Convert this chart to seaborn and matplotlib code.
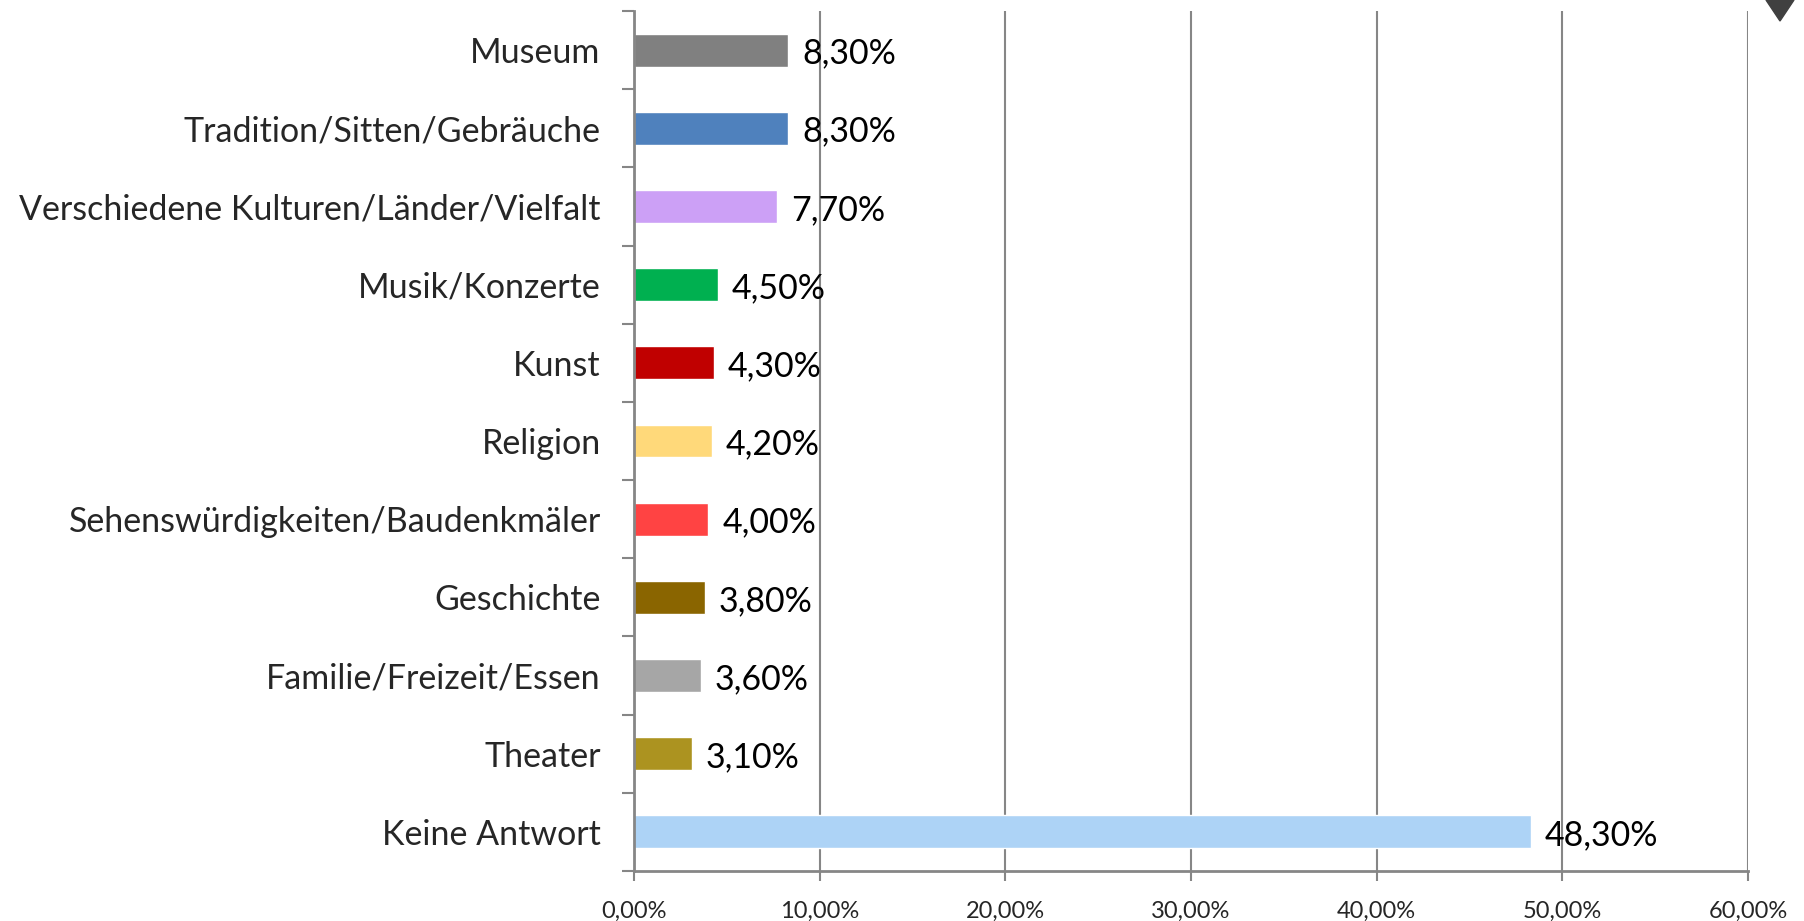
import matplotlib
matplotlib.use("Agg")
import matplotlib.pyplot as plt
import seaborn as sns
import pandas as pd
from matplotlib.ticker import FuncFormatter, FixedLocator
from matplotlib.patches import Polygon

categories = ["Museum", "Tradition/Sitten/Gebräuche", "Verschiedene Kulturen/Länder/Vielfalt",
              "Musik/Konzerte", "Kunst", "Religion", "Sehenswürdigkeiten/Baudenkmäler",
              "Geschichte", "Familie/Freizeit/Essen", "Theater", "Keine Antwort"]
values = [8.3, 8.3, 7.7, 4.5, 4.3, 4.2, 4.0, 3.8, 3.6, 3.1, 48.3]
colors = ["#808080", "#4F81BD", "#CCA0F6", "#00B050", "#C00000", "#FFD97A",
          "#FF4343", "#8A6500", "#A6A6A6", "#AC9320", "#ADD3F6"]
x_ticks = [0, 10, 20, 30, 40, 50, 60]

sns.set_theme(style="white")
plt.rcParams['font.family'] = ['Lato', 'DejaVu Sans']

df = pd.DataFrame({"cat": categories, "val": values})
fig = plt.figure(figsize=(18.04, 9.21), dpi=100)
ax = fig.add_axes([634/1804, 1-871/921, (1748-634)/1804, (871-11)/921])

sns.barplot(data=df, x="val", y="cat", hue="cat", palette=dict(zip(categories, colors)),
            orient="h", width=0.42, legend=False, ax=ax, saturation=1)

axis_col = "#868686"
ax.set_xlim(0, 60)
ax.set_ylim(len(categories) - 0.5, -0.5)
ax.xaxis.set_major_locator(FixedLocator(x_ticks))
ax.xaxis.set_major_formatter(FuncFormatter(lambda v, p: f"{v:.2f}".replace(".", ",") + "%"))
ax.grid(axis="x", color=axis_col, linewidth=1.5)
ax.set_axisbelow(True)
for s in ["top", "right"]:
    ax.spines[s].set_visible(False)
for s in ["left", "bottom"]:
    ax.spines[s].set_color(axis_col)
    ax.spines[s].set_linewidth(2)
ax.set_xlabel("")
ax.set_ylabel("")
ax.tick_params(axis="x", which="major", length=7.2, width=1.5, color=axis_col,
               labelsize=17, pad=14, direction="out", bottom=True)
ax.tick_params(axis="y", which="major", length=0, labelsize=24.5, pad=24, left=False)
ax.set_yticks(range(len(categories)), labels=categories)
ax.yaxis.set_minor_locator(FixedLocator([i - 0.5 for i in range(len(categories) + 1)]))
ax.tick_params(axis="y", which="minor", length=8.6, width=1.5, color=axis_col, left=True, direction="out")

for c in ax.containers:
    labs = ax.bar_label(c, labels=[f"{v:.2f}".replace(".", ",") + "%" for v in c.datavalues],
                        padding=10, fontsize=24.5, color="black")
    for t in labs:
        x0, y0 = t.xyann
        t.xyann = (x0, y0 - 2.5)

tri = Polygon([[1766/1804, 1.0], [1794/1804, 1.0], [1780/1804, 1-21/921]],
              closed=True, transform=fig.transFigure, color="#404040")
fig.add_artist(tri)

fig.savefig("out.png", dpi=100, facecolor="white")
